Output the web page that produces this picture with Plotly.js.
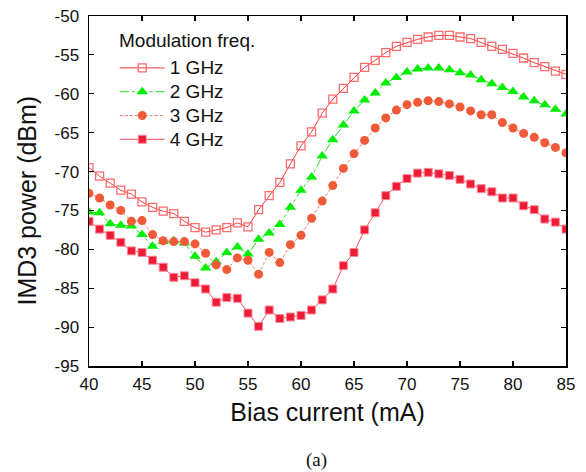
<!DOCTYPE html>
<html>
<head>
<meta charset="utf-8">
<script src="https://cdn.plot.ly/plotly-3.0.1.min.js"></script>
<style>html,body{margin:0;padding:0;background:#fff;}#chart{width:586px;height:472px;}</style>
</head>
<body>
<div id="chart"></div>
<script>
// Bias current (mA)
const biasCurrent = [40,41,42,43,44,45,46,47,48,49,50,51,52,53,54,55,56,57,58,59,60,61,62,63,64,65,66,67,68,69,70,71,72,73,74,75,76,77,78,79,80,81,82,83,84,85];

// IMD3 power (dBm) per modulation frequency
const imd3_1GHz = [-69.5,-70.6,-71.5,-72.4,-72.9,-73.9,-74.6,-75.1,-75.4,-76.4,-77.2,-77.8,-77.5,-77.2,-76.6,-77.1,-74.9,-73.1,-71.4,-69.0,-66.7,-64.9,-62.5,-60.7,-59.3,-57.9,-56.6,-55.7,-54.7,-53.9,-53.4,-53.0,-52.7,-52.5,-52.5,-52.7,-52.9,-53.4,-53.9,-54.3,-54.8,-55.4,-56.0,-56.5,-57.1,-57.5];
const imd3_2GHz = [-75.2,-75.3,-76.7,-76.9,-77.0,-78.1,-79.6,-79.0,-78.9,-79.2,-80.9,-82.4,-81.6,-80.4,-79.7,-80.6,-78.7,-77.9,-76.8,-74.6,-72.4,-70.7,-68.0,-65.9,-64.0,-62.2,-60.8,-59.9,-58.6,-57.9,-57.2,-56.8,-56.7,-56.7,-56.9,-57.3,-57.6,-58.2,-58.7,-59.2,-59.7,-60.4,-60.9,-61.4,-62.0,-62.6];
const imd3_3GHz = [-72.8,-73.4,-74.3,-75.0,-76.4,-76.3,-78.1,-78.9,-79.0,-79.0,-79.3,-80.5,-82.0,-82.6,-81.1,-81.4,-83.2,-80.4,-81.7,-79.4,-78.2,-76.0,-73.8,-71.8,-69.6,-67.7,-66.0,-64.4,-63.1,-62.1,-61.4,-61.1,-60.9,-61.0,-61.3,-61.7,-62.2,-62.7,-62.7,-63.7,-64.4,-65.1,-65.6,-66.3,-66.9,-67.6];
const imd3_4GHz = [-76.4,-77.4,-78.2,-79.1,-80.2,-80.4,-81.4,-82.3,-83.6,-83.4,-84.3,-85.1,-86.8,-86.2,-86.3,-88.2,-89.9,-87.8,-88.9,-88.7,-88.5,-87.8,-86.5,-85.1,-82.1,-80.4,-77.5,-75.3,-73.1,-71.9,-70.9,-70.2,-70.1,-70.3,-70.5,-71.0,-71.6,-72.2,-72.6,-73.4,-73.4,-74.4,-74.9,-76.1,-76.5,-77.4];

const seriesNames = ["1 GHz","2 GHz","3 GHz","4 GHz"];
const xTickVals = [40,45,50,55,60,65,70,75,80,85];
const xTickText = ["40","45","50","55","60","65","70","75","80","85"];
const yTickVals = [-95,-90,-85,-80,-75,-70,-65,-60,-55,-50];
const yTickText = ["-95","-90","-85","-80","-75","-70","-65","-60","-55","-50"];

const FONT = "Liberation Sans, Arial, Helvetica, sans-serif";
const big = s => '<span style="font-size:19px">' + s + '</span>';

const traces = [
  {x: biasCurrent, y: imd3_1GHz, name: big(seriesNames[0]), type: "scatter", mode: "lines+markers",
   line: {color: "#ff3b3b", width: 1},
   marker: {symbol: "square-open", size: 8, color: "#ff6b6b", line: {width: 1.3, color: "#ff6b6b"}}},
  {x: biasCurrent, y: imd3_2GHz, name: big(seriesNames[1]), type: "scatter", mode: "lines+markers",
   line: {color: "#22dd22", width: 1, dash: "dashdot"},
   marker: {symbol: "triangle-up", size: 10, color: "#00ee00", line: {width: 0}}},
  {x: biasCurrent, y: imd3_3GHz, name: big(seriesNames[2]), type: "scatter", mode: "lines+markers",
   line: {color: "#f07a6a", width: 1, dash: "3px,2px"},
   marker: {symbol: "circle", size: 9, color: "#f05a38", line: {width: 0}}},
  {x: biasCurrent, y: imd3_4GHz, name: big(seriesNames[3]), type: "scatter", mode: "lines+markers",
   line: {color: "#f25060", width: 1},
   marker: {symbol: "square", size: 8, color: "#ec1c34", line: {width: 1, color: "#ff8a9a"}}}
];

const axisCommon = {
  showline: true, linecolor: "#000", linewidth: 1.5, mirror: "ticks",
  ticks: "inside", ticklen: 5, tickwidth: 1.2, tickcolor: "#000",
  showgrid: false, zeroline: false, tickmode: "array",
  tickfont: {family: FONT, size: 17, color: "#111"}
};

const layout = {
  width: 586, height: 472,
  margin: {l: 89, r: 20, t: 16, b: 106},
  paper_bgcolor: "#fff", plot_bgcolor: "#fff",
  showlegend: true,
  xaxis: Object.assign({}, axisCommon, {
    range: [40, 85], tickvals: xTickVals, ticktext: xTickText, ticklabelstandoff: 2,
    title: {text: "Bias current (mA)", font: {family: FONT, size: 25, color: "#111"}, standoff: 10}
  }),
  yaxis: Object.assign({}, axisCommon, {
    range: [-95, -50], tickvals: yTickVals, ticktext: yTickText, ticklabelstandoff: 5
  }),
  legend: {
    x: 0.054, y: 0.9, xanchor: "left", yanchor: "top",
    bgcolor: "rgba(0,0,0,0)", borderwidth: 0,
    font: {family: FONT, size: 16, color: "#111"},
    itemwidth: 45, tracegroupgap: 0
  },
  annotations: [
    {text: "Modulation freq.", xref: "paper", yref: "paper", x: 0.058, y: 0.93,
     xanchor: "left", yanchor: "middle", showarrow: false,
     font: {family: FONT, size: 19, color: "#111"}},
    {text: "IMD3 power (dBm)", xref: "paper", yref: "paper", x: -0.129, y: 0.474,
     xanchor: "center", yanchor: "middle", showarrow: false, textangle: -90,
     font: {family: FONT, size: 25, color: "#111"}},
    {text: "(a)", xref: "paper", yref: "paper", x: 0.477, y: -0.268,
     xanchor: "center", yanchor: "middle", showarrow: false,
     font: {family: "Liberation Serif, Times New Roman, serif", size: 19, color: "#111"}}
  ]
};

Plotly.newPlot("chart", traces, layout, {displayModeBar: false, staticPlot: true});
</script>
</body>
</html>
